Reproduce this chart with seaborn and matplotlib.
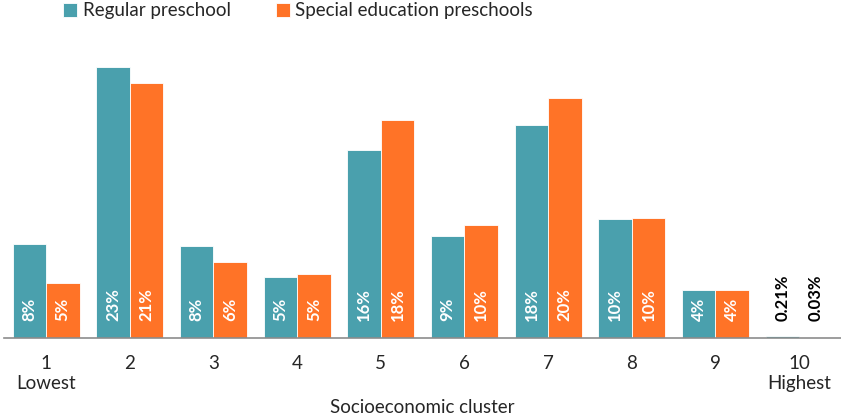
import pandas as pd
import matplotlib.pyplot as plt
import seaborn as sns

clusters = ["1\nLowest", "2", "3", "4", "5", "6", "7", "8", "9", "10\nHighest"]
regular = [7.9, 22.7, 7.7, 5.1, 15.8, 8.6, 17.9, 10.0, 4.0, 0.21]
special = [4.6, 21.4, 6.4, 5.4, 18.3, 9.5, 20.1, 10.1, 4.0, 0.03]
series = ["Regular preschool", "Special education preschools"]
colors = ["#4AA0AD", "#FF7327"]

df = pd.DataFrame({
    "cluster": clusters * 2,
    "share": regular + special,
    "type": [series[0]] * len(clusters) + [series[1]] * len(clusters),
})

sns.set_style("white")
plt.rcParams["font.family"] = ["Lato", "DejaVu Sans"]

fig = plt.figure(figsize=(8.41, 4.18), dpi=100)
ax = fig.add_axes([0.005, 0.191, 0.995, 0.685])

sns.barplot(data=df, x="cluster", y="share", hue="type", palette=colors,
            saturation=1, width=0.8, edgecolor="white", linewidth=0.6,
            ax=ax, legend=True)

ax.set_ylim(0, 24)
ax.set_xlim(-0.5, 9.5)


def fmt(v):
    return f"{v:.2f}%" if v < 1 else f"{v:.0f}%"


for cont, vals in zip(ax.containers, [regular, special]):
    for bar, v in zip(cont, vals):
        x = bar.get_x() + bar.get_width() / 2
        col = "black" if v < 1 else "white"
        ax.annotate(fmt(v), (x, 0), xytext=(0, 12), textcoords="offset points",
                    rotation=90, ha="center", va="bottom", color=col,
                    fontsize=12, fontweight="bold")

for s in ["top", "right", "left"]:
    ax.spines[s].set_visible(False)
ax.spines["bottom"].set_color("#8c8c8c")
ax.spines["bottom"].set_linewidth(1.2)
ax.set_yticks([])
ax.set_ylabel("")
ax.tick_params(axis="x", length=0, labelsize=13.5, pad=12)
ax.set_xlabel("Socioeconomic cluster", fontsize=13.5, labelpad=5)

ax.legend(loc="upper left", bbox_to_anchor=(0.066, 1.012), bbox_transform=fig.transFigure,
          ncol=2, frameon=False, fontsize=13.5, handlelength=0.75, handleheight=0.75,
          handletextpad=0.3, columnspacing=2.4, borderaxespad=0)

fig.savefig("out.png", dpi=100)
